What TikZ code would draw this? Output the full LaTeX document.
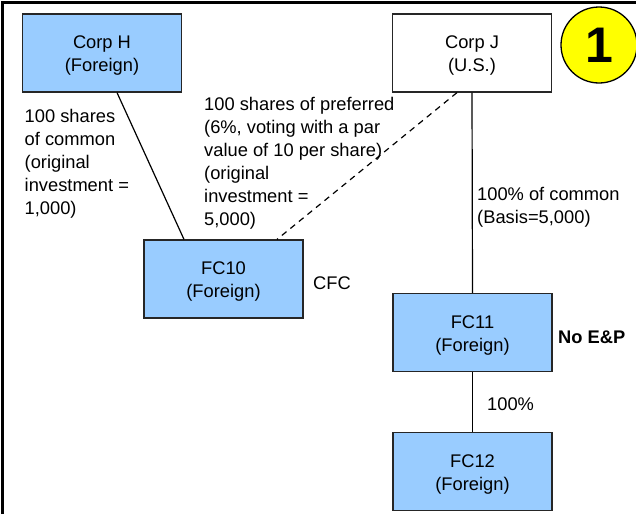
\documentclass[tikz,border=0pt]{standalone}
\usepackage{fontspec}
\setmainfont{Liberation Sans}
\definecolor{boxblue}{HTML}{99CCFF}
\definecolor{badgeyellow}{HTML}{FFFF00}
\newcommand\boxstrut{\rule{0pt}{18.5pt}}
\newcommand\txtstrut{\rule{0pt}{15pt}}
\begin{document}
\begin{tikzpicture}[x=1pt,y=-1pt,
  txt/.style={font={\fontsize{18.3}{23}\selectfont}},
  entity/.style={txt, draw=black!85, line width=1.2pt, minimum width=159pt, minimum height=78pt, align=center, inner sep=0pt},
  foreign/.style={entity, fill=boxblue},
  usent/.style={entity, fill=white},
  note/.style={txt, align=left, anchor=north west, inner sep=0pt},
  tag/.style={txt, anchor=base west, inner sep=0pt},
  link/.style={draw=black, line width=1.2pt},
  dlink/.style={link, dash pattern=on 6pt off 5pt}
]
\useasboundingbox (0,0) rectangle (636,514);
\fill[white] (0,0) rectangle (636,514);
% frame
\draw[line width=3pt] (2,514) -- (2,2) -- (636,2);

% entities
\node[foreign] (H) at (102,53) {\boxstrut Corp H\\(Foreign)};
\node[usent] (J) at (472,53) {\boxstrut Corp J\\(U.S.)};
\node[foreign] (FC10) at (223.5,279) {\boxstrut FC10\\(Foreign)};
\node[foreign] (FC11) at (472.5,332.5) {\boxstrut FC11\\(Foreign)};
\node[foreign] (FC12) at (472.5,471.5) {\boxstrut FC12\\(Foreign)};

% badge
\node[circle, draw=black, line width=1.3pt, fill=badgeyellow, minimum size=76pt, inner sep=0pt,
      font={\fontsize{50}{50}\selectfont\bfseries}] (badge) at (599,45) {1};

% connectors
\draw[link] ([xshift=15pt]H.south) -- ([xshift=-39.5pt]FC10.north);
\draw[dlink] ([xshift=-15pt]J.south) -- ([xshift=53.5pt]FC10.north);
\draw[link] (J.south) -- (FC11.north);
\draw[link] (FC11.south) -- (FC12.north);

% notes
\node[note] (n1) at (24.5,107) {\txtstrut 100 shares\\of common\\(original\\investment =\\1,000)};
\node[note] (n2) at (204,95) {\txtstrut 100 shares of preferred\\(6\%, voting with a par\\value of 10 per share)\\(original\\investment =\\5,000)};
\node[note] (n3) at (477,185) {\txtstrut 100\% of common\\(Basis=5,000)};
\node[tag] (cfc) at (313,289) {CFC};
\node[tag, font={\fontsize{18.3}{23}\selectfont\bfseries}] (nep) at (558,343) {No E\&P};
\node[tag] (pct) at (487,410) {100\%};
\end{tikzpicture}
\end{document}
